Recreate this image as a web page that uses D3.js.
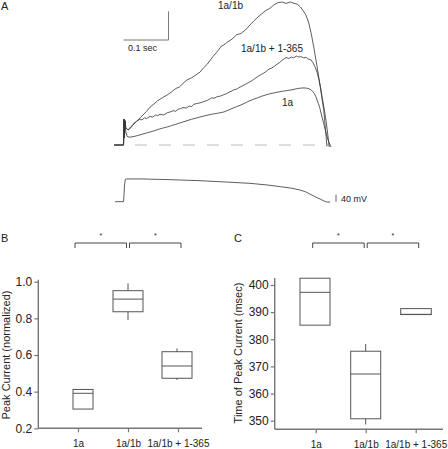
<!DOCTYPE html>
<html>
<head>
<meta charset="utf-8">
<script src="https://cdn.jsdelivr.net/npm/d3@7"></script>
<style>
  html, body { margin: 0; padding: 0; background: #fff; }
  svg { display: block; }
  text { font-family: "Liberation Sans", Arial, Helvetica, sans-serif; fill: #222; }
</style>
</head>
<body>
<svg id="fig" width="448" height="449"></svg>
<script>
// ---------------- DATA ----------------
// Panel A: current traces, [time ms, normalized current]
const trace1a1b = [[-22,0],[-1,0],[0,0.18],[1,0.05],[2,0.17],[4,0.12],[9,0.105],[15,0.12],[20,0.14],[28,0.165],[36,0.19],[44,0.215],[50,0.235],[58,0.265],[66,0.285],[75,0.31],[85,0.33],[96,0.35],[105,0.37],[115,0.395],[123,0.405],[131,0.43],[140,0.455],[150,0.47],[160,0.49],[169,0.51],[177,0.54],[185,0.565],[192,0.595],[198,0.62],[205,0.645],[210,0.665],[216,0.69],[222,0.70],[230,0.72],[240,0.74],[250,0.77],[260,0.78],[270,0.805],[280,0.84],[288,0.865],[296,0.89],[305,0.915],[315,0.94],[324,0.955],[333,0.98],[342,0.995],[351,1.0],[360,0.99],[370,1.0],[378,0.99],[385,0.985],[392,0.965],[398,0.94],[404,0.91],[410,0.86],[416,0.78],[422,0.68],[429,0.55],[436,0.41],[444,0.24],[448,0.10],[451,-0.01]];
const trace1a1b365 = [[-22,0],[-1,0],[0,0.18],[1,0.05],[2,0.17],[4,0.12],[9,0.105],[13,0.12],[16,0.13],[20,0.145],[25,0.16],[30,0.17],[36,0.18],[40,0.175],[45,0.19],[50,0.185],[58,0.2],[64,0.195],[70,0.21],[75,0.205],[80,0.215],[88,0.21],[96,0.225],[103,0.232],[110,0.24],[115,0.236],[120,0.25],[126,0.255],[131,0.262],[138,0.258],[145,0.272],[150,0.268],[155,0.285],[162,0.29],[169,0.295],[176,0.302],[185,0.312],[190,0.32],[195,0.33],[200,0.326],[207,0.338],[214,0.342],[222,0.352],[228,0.36],[235,0.372],[240,0.378],[244,0.386],[250,0.39],[255,0.40],[261,0.41],[267,0.42],[273,0.43],[280,0.442],[288,0.458],[296,0.476],[303,0.49],[310,0.502],[316,0.515],[322,0.53],[328,0.538],[333,0.548],[340,0.565],[345,0.575],[350,0.59],[355,0.6],[360,0.612],[366,0.605],[372,0.615],[377,0.61],[383,0.622],[388,0.615],[393,0.618],[399,0.61],[405,0.612],[410,0.6],[416,0.594],[420,0.575],[424,0.55],[429,0.51],[433,0.46],[437,0.40],[440,0.34],[445,0.25],[449,0.17],[453,0.07],[456,-0.014]];
const trace1a = [[-22,0],[-1,0],[0,0.18],[1,0.05],[2,0.17],[4,0.09],[7,0.06],[12,0.055],[20,0.058],[30,0.066],[40,0.075],[50,0.084],[58,0.091],[68,0.10],[77,0.11],[86,0.118],[96,0.126],[105,0.135],[115,0.145],[123,0.153],[131,0.161],[140,0.17],[150,0.18],[160,0.188],[169,0.196],[182,0.206],[195,0.215],[208,0.222],[222,0.231],[231,0.243],[240,0.255],[250,0.268],[260,0.28],[270,0.295],[280,0.31],[288,0.32],[296,0.329],[305,0.34],[315,0.35],[324,0.358],[333,0.364],[342,0.37],[352,0.376],[361,0.38],[371,0.385],[379,0.39],[386,0.395],[393,0.398],[400,0.399],[405,0.398],[409,0.395],[413,0.39],[416,0.385],[420,0.372],[423,0.36],[426,0.34],[429,0.315],[432,0.29],[435,0.26],[440,0.196],[445,0.135],[449,0.084],[454,0.03],[460,-0.014]];
// voltage command, [time ms, mV]
const voltage = [[-20,-100],[-1,-100],[0,-60],[1,-10],[3,28],[6,30],[40,30],[100,26],[169,20],[230,12],[280,5],[320,-5],[347,-14],[370,-22],[391,-33],[403,-43],[413,-56],[425,-72],[436,-85],[442,-93],[447,-99],[452,-102],[458,-102]];
const traceLabels = ["1a/1b", "1a/1b + 1-365", "1a"];
const baselineSpan = [24, 458];           // ms, dashed zero-current line
const scaleBarTime = 100;                 // ms  ("0.1 sec")
const scaleBarCurrent = 0.2;              // normalized units
const scaleBarVolt = 40;                  // mV

// Panels B & C: box plots
const categories = ["1a", "1a/1b", "1a/1b + 1-365"];
const peakMin = [0.305, 0.791, 0.464];
const peakQ1  = [0.305, 0.836, 0.473];
const peakMed = [0.391, 0.905, 0.540];
const peakQ3  = [0.412, 0.951, 0.618];
const peakMax = [0.415, 0.991, 0.636];
const peakTicks = [0.2, 0.4, 0.6, 0.8, 1.0];

const timeMin = [385.2, 348.6, 389.1];
const timeQ1  = [385.2, 350.7, 389.1];
const timeMed = [397.3, 367.2, 389.2];
const timeQ3  = [402.5, 375.6, 391.3];
const timeMax = [402.5, 378.3, 391.3];
const timeTicks = [350, 360, 370, 380, 390, 400];

const signifPairs = [[0, 1], [1, 2]];

// ---------------- DRAW ----------------
const svg = d3.select("#fig");
const INK = "#333";

// ---- Panel A ----
const xT = d3.scaleLinear().domain([0, 100]).range([124, 169]);
const yI = d3.scaleLinear().domain([0, 1]).range([145, 2]);
const yV = d3.scaleLinear().domain([-100, 40]).range([201.7, 177.2]);

svg.append("text").attr("x", 1).attr("y", 9.5).attr("font-size", 11).text("A");

// dashed baseline
svg.append("line")
  .attr("x1", xT(baselineSpan[0])).attr("x2", xT(baselineSpan[1]))
  .attr("y1", yI(0)).attr("y2", yI(0))
  .attr("stroke", "#bbb").attr("stroke-width", 1).attr("stroke-dasharray", "12,12");

const lineI = d3.line().x(d => xT(d[0])).y(d => yI(d[1]));
[trace1a, trace1a1b365, trace1a1b].forEach(tr => {
  svg.append("path").datum(tr).attr("d", lineI)
    .attr("fill", "none").attr("stroke", INK).attr("stroke-width", 0.8)
    .attr("stroke-linejoin", "round");
});

// trace labels
svg.append("text").attr("x", 218).attr("y", 9).attr("font-size", 10).text(traceLabels[0]);
svg.append("text").attr("x", 241).attr("y", 52).attr("font-size", 10).text(traceLabels[1]);
svg.append("text").attr("x", 282).attr("y", 106).attr("font-size", 10).text(traceLabels[2]);

// time/current scale bar
const sbX0 = xT(-1), sbX1 = xT(-1 + scaleBarTime);
const sbY0 = 40, sbY1 = sbY0 - (yI(0) - yI(scaleBarCurrent));
svg.append("path")
  .attr("d", `M${sbX0},${sbY0}H${sbX1}V${sbY1}`)
  .attr("fill", "none").attr("stroke", "#777").attr("stroke-width", 1);
svg.append("text").attr("x", 128).attr("y", 51).attr("font-size", 9).text("0.1 sec");

// voltage trace
const lineV = d3.line().x(d => xT(d[0])).y(d => yV(d[1]));
svg.append("path").datum(voltage).attr("d", lineV)
  .attr("fill", "none").attr("stroke", INK).attr("stroke-width", 0.8);
svg.append("line").attr("x1", 336).attr("x2", 336)
  .attr("y1", yV(-100)).attr("y2", yV(-100 + scaleBarVolt))
  .attr("stroke", INK).attr("stroke-width", 0.8);
svg.append("text").attr("x", 341).attr("y", 202).attr("font-size", 9).text("40 mV");

// ---- Box panels ----
function boxPanel(cfg) {
  const g = svg.append("g");
  const x = d3.scalePoint().domain(categories).range(cfg.xRange);
  const y = d3.scaleLinear().domain(cfg.yDomain).range(cfg.yRange);
  const AX = "#777";

  g.append("text").attr("x", cfg.letterX).attr("y", 242).attr("font-size", 11).text(cfg.letter);

  // y axis
  const ya = g.append("g").attr("transform", `translate(${cfg.axisX},0)`)
    .call(d3.axisLeft(y).tickValues(cfg.ticks).tickFormat(cfg.fmt).tickSize(4).tickPadding(2));
  ya.select(".domain").remove();
  ya.selectAll(".tick line").attr("stroke", AX).attr("stroke-width", 1.2);
  ya.selectAll(".tick text").attr("font-size", 12).attr("fill", "#222")
    .attr("font-family", '"Liberation Sans", Arial, sans-serif');
  g.append("line").attr("x1", cfg.axisX).attr("x2", cfg.axisX)
    .attr("y1", y(cfg.axisTop)).attr("y2", cfg.axisY)
    .attr("stroke", AX).attr("stroke-width", 1.4);

  // x axis
  const xa = g.append("g").attr("transform", `translate(0,${cfg.axisY})`)
    .call(d3.axisBottom(x).tickSize(4).tickPadding(8));
  xa.select(".domain").remove();
  xa.selectAll(".tick line").attr("stroke", AX).attr("stroke-width", 1.2);
  xa.selectAll(".tick text").attr("font-size", 10).attr("fill", "#222")
    .attr("font-family", '"Liberation Sans", Arial, sans-serif');
  g.append("line").attr("x1", cfg.axisX).attr("x2", cfg.axisEnd)
    .attr("y1", cfg.axisY).attr("y2", cfg.axisY)
    .attr("stroke", AX).attr("stroke-width", 1.4);

  // y title
  g.append("text")
    .attr("transform", `translate(${cfg.titleX},${cfg.titleY}) rotate(-90)`)
    .attr("text-anchor", "middle").attr("font-size", 11).text(cfg.title);

  // boxes
  categories.forEach((c, i) => {
    const bx = x(c) + cfg.boxDx[i], bw = cfg.boxW[i];
    const cx = bx + bw / 2;
    const S = "#555";
    g.append("line").attr("x1", cx).attr("x2", cx)
      .attr("y1", y(cfg.max[i])).attr("y2", y(cfg.q3[i])).attr("stroke", S);
    g.append("line").attr("x1", cx).attr("x2", cx)
      .attr("y1", y(cfg.q1[i])).attr("y2", y(cfg.min[i])).attr("stroke", S);
    g.append("rect").attr("x", bx).attr("width", bw)
      .attr("y", y(cfg.q3[i])).attr("height", Math.max(0.5, y(cfg.q1[i]) - y(cfg.q3[i])))
      .attr("fill", "none").attr("stroke", S).attr("stroke-width", 1);
    g.append("line").attr("x1", bx).attr("x2", bx + bw)
      .attr("y1", y(cfg.med[i])).attr("y2", y(cfg.med[i])).attr("stroke", S);
  });

  // significance brackets
  const by = 243;
  signifPairs.forEach((p, k) => {
    const xa0 = x(categories[p[0]]), xb0 = x(categories[p[1]]);
    const x0 = k === 0 ? xa0 - 3 : xa0 + 1.5;
    const x1 = k === 0 ? xb0 - 1.5 : xb0 + 3;
    g.append("path").attr("d", `M${x0},${by + 5}V${by}H${x1}V${by + 5}`)
      .attr("fill", "none").attr("stroke", "#444").attr("stroke-width", 1);
    g.append("text").attr("x", (x0 + x1) / 2).attr("y", 238)
      .attr("text-anchor", "middle").attr("font-size", 7).attr("fill", "#555").text("*");
  });
}

boxPanel({
  letter: "B", letterX: 1,
  xRange: [78, 178],
  yDomain: [0.2, 1.0], yRange: [428.3, 281.7],
  ticks: peakTicks, fmt: d3.format(".1f"),
  axisX: 38.3, axisY: 428.3, axisEnd: 202, axisTop: 1.01,
  title: "Peak Current (normalized)", titleX: 10, titleY: 355,
  boxDx: [-5, -15, -16], boxW: [20, 30, 30],
  min: peakMin, q1: peakQ1, med: peakMed, q3: peakQ3, max: peakMax
});

boxPanel({
  letter: "C", letterX: 234,
  xRange: [315.7, 415.7],
  yDomain: [350, 400], yRange: [420.7, 285],
  ticks: timeTicks, fmt: d3.format("d"),
  axisX: 274.7, axisY: 429.3, axisEnd: 443, axisTop: 402.6,
  title: "Time of Peak Current (msec)", titleX: 242, titleY: 353,
  boxDx: [-15.7, -15, -15], boxW: [30, 30, 30.6],
  min: timeMin, q1: timeQ1, med: timeMed, q3: timeQ3, max: timeMax
});
</script>
</body>
</html>
